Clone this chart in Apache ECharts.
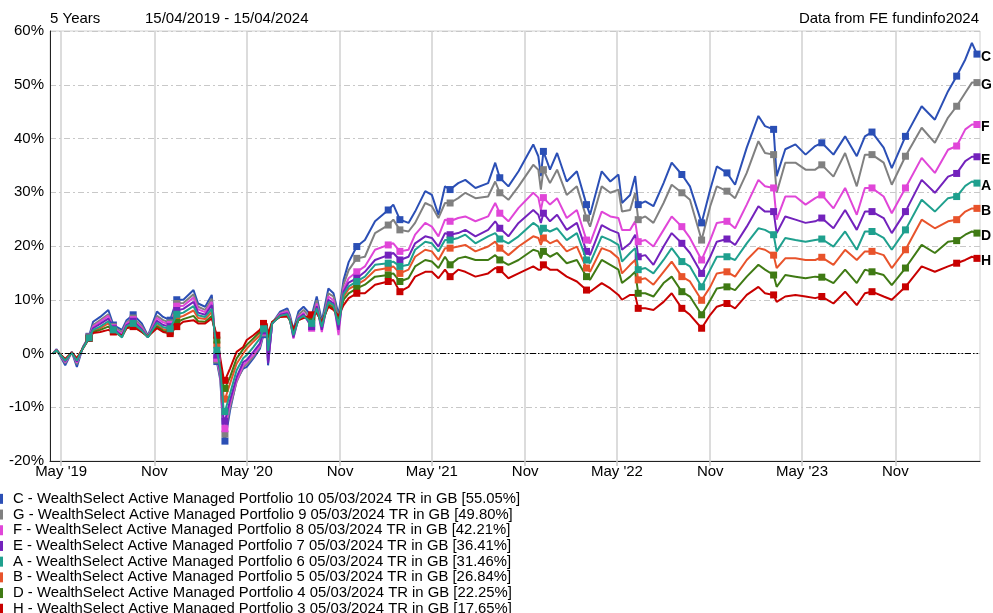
<!DOCTYPE html>
<html><head><meta charset="utf-8">
<script src="https://cdn.jsdelivr.net/npm/echarts@6/dist/echarts.min.js"></script>
<style>html,body{margin:0;padding:0;background:#fff}#chart{width:993px;height:613px}</style>
</head><body><div id="chart"></div>
<script>
const dates = [
'2019-04-15','2019-04-22','2019-05-09','2019-05-22','2019-06-01','2019-06-13','2019-06-25','2019-07-03','2019-07-17','2019-08-02',
'2019-08-12','2019-08-29','2019-09-07','2019-09-20','2019-10-07','2019-10-19','2019-11-06','2019-11-18','2019-12-02','2019-12-15',
'2019-12-28','2020-01-17','2020-01-26','2020-02-09','2020-02-22','2020-03-03','2020-03-10','2020-03-16','2020-03-19','2020-03-29',
'2020-04-11','2020-04-24','2020-05-01','2020-05-14','2020-05-27','2020-06-03','2020-06-09','2020-06-12','2020-06-20','2020-07-06',
'2020-07-20','2020-07-25','2020-08-01','2020-08-11','2020-08-21','2020-09-06','2020-09-16','2020-09-26','2020-10-09','2020-10-19',
'2020-10-29','2020-11-08','2020-11-18','2020-12-04','2020-12-20','2021-01-09','2021-02-04','2021-02-14','2021-02-27','2021-03-16',
'2021-03-29','2021-04-18','2021-05-01','2021-05-14','2021-05-27','2021-06-06','2021-06-22','2021-07-06','2021-07-26','2021-08-20',
'2021-09-03','2021-09-12','2021-09-29','2021-10-19','2021-11-17','2021-11-27','2021-12-02','2021-12-07','2021-12-20','2022-01-03',
'2022-01-22','2022-02-11','2022-03-02','2022-03-09','2022-04-01','2022-04-18','2022-05-04','2022-05-11','2022-05-27','2022-06-06',
'2022-06-12','2022-06-26','2022-07-12','2022-08-01','2022-08-17','2022-09-06','2022-09-22','2022-10-15','2022-11-01','2022-11-14',
'2022-12-04','2022-12-20','2023-01-12','2023-02-04','2023-02-17','2023-03-06','2023-03-12','2023-03-29','2023-04-18','2023-05-08',
'2023-05-27','2023-06-09','2023-07-02','2023-07-25','2023-08-17','2023-09-02','2023-09-16','2023-10-09','2023-10-25','2023-11-21',
'2023-12-23','2024-01-18','2024-02-13','2024-03-01','2024-03-18','2024-03-31','2024-04-10'
];
const seriesC = [
0,0.8,-2.2,0.3,-2.5,1.2,3.2,5.9,6.8,8.1,
5.3,4.4,6.2,7.2,5.6,3.3,7.8,6.8,6.2,10.0,
10.0,11.8,9.3,8.7,10.9,-1.5,-5.0,-15.5,-16.3,-10.6,
-5.0,-2.8,-2.5,-0.9,0.9,3.5,4.4,-2.2,5.6,7.8,
8.4,7.2,4.4,7.8,8.7,7.0,10.6,6.0,12.1,11.2,
7.2,13.7,17.0,19.9,21.1,24.6,26.7,27.7,24.9,24.3,
26.4,30.2,29.5,25.8,31.1,30.5,31.7,32.3,30.8,31.7,
35.5,32.7,31.1,33.9,38.9,36.7,33.0,37.6,34.2,37.3,
32.0,33.9,27.7,25.8,33.9,32.0,33.3,28.0,29.5,33.0,
27.7,28.3,27.4,31.7,35.5,33.3,31.1,24.3,30.5,34.8,
33.6,31.4,38.3,44.2,42.3,41.7,33.0,38.0,38.9,37.0,
38.6,39.2,37.0,40.4,36.7,40.4,41.2,38.3,34.5,40.4,
46.0,43.5,48.8,51.6,54.7,57.8,55.7
];
const seriesG = [
0,0.7,-1.8,0.3,-2.0,1.2,3.1,5.3,6.2,7.3,
5.0,4.0,5.8,6.6,5.1,3.2,7.0,6.2,5.7,9.3,
9.4,11.0,8.7,8.1,10.2,-1.2,-4.5,-14.3,-15.0,-10.0,
-5.3,-2.5,-2.0,-0.6,1.2,3.8,4.6,-1.2,5.6,7.5,
8.0,6.8,3.8,7.2,8.1,6.3,9.9,5.3,11.2,10.6,
6.5,12.8,15.5,17.7,18.0,22.4,23.9,24.9,23.0,22.7,
24.3,28.0,27.4,25.2,28.0,28.0,28.9,29.9,28.9,29.2,
32.0,29.9,28.6,31.1,35.1,34.2,30.5,34.2,31.7,34.2,
29.5,31.1,25.2,23.6,31.1,29.9,30.5,26.4,26.7,29.9,
24.9,25.5,24.3,28.0,31.4,29.9,28.6,21.1,27.4,31.1,
30.2,28.9,33.6,39.5,37.3,37.0,29.9,35.5,35.5,34.2,
34.2,35.1,32.9,37.3,31.1,37.0,37.0,35.5,31.4,36.7,
42.0,39.2,43.9,46.0,48.5,50.4,50.4
];
const seriesF = [
0,0.7,-1.6,0.2,-1.7,1.1,3.0,5.0,5.9,7.0,
4.8,3.6,5.6,6.3,4.8,3.0,6.6,5.8,5.4,8.8,
8.9,10.4,8.2,7.7,9.6,-0.9,-4.0,-13.4,-14.0,-9.3,
-5.0,-2.2,-1.5,-0.3,1.5,4.0,4.8,-1.5,5.5,7.4,
7.8,6.5,2.8,6.8,7.6,4.7,9.3,4.0,10.6,9.9,
3.4,12.0,14.0,15.2,16.2,19.3,20.2,20.5,19.0,19.3,
22.1,24.3,23.6,21.8,24.9,24.6,25.2,25.5,24.6,25.5,
28.0,26.1,24.6,27.1,29.9,29.0,26.7,29.0,27.7,28.9,
25.2,26.7,21.1,20.5,26.4,25.5,25.2,23.0,23.0,24.6,
20.8,21.1,19.9,23.0,25.5,23.6,21.5,17.4,21.1,24.3,
24.6,23.3,27.7,32.3,31.1,30.8,24.9,29.2,29.2,27.7,
28.9,29.5,27.0,30.8,25.8,30.8,30.8,29.2,26.1,30.8,
36.4,33.6,37.9,38.6,41.7,42.6,42.6
];
const seriesE = [
0,0.7,-1.4,0.2,-1.5,1.1,3.0,4.7,5.5,6.5,
4.6,3.3,5.3,6.0,4.5,3.0,6.1,5.3,5.0,8.0,
8.3,9.6,7.6,7.2,9.0,-0.3,-3.5,-11.8,-12.6,-8.7,
-4.4,-1.6,-1.2,0.3,1.9,4.2,5.0,-1.8,5.5,7.2,
7.5,6.3,3.0,6.5,7.3,5.0,8.8,4.4,10.0,9.3,
4.4,11.5,13.2,14.0,15.2,17.4,18.3,18.7,17.4,18.0,
20.5,21.8,21.5,19.9,22.4,22.1,22.4,23.0,21.8,23.0,
24.6,23.3,21.8,24.3,26.7,25.8,24.3,26.1,24.6,25.8,
23.0,24.3,19.0,18.3,23.9,23.0,22.4,19.3,20.5,22.1,
18.0,18.3,16.5,19.9,22.4,20.5,18.7,14.9,18.0,20.8,
21.3,20.2,23.6,27.4,26.4,26.4,22.4,25.5,24.9,24.3,
24.6,25.2,23.3,26.7,23.0,26.4,26.4,25.2,22.4,26.4,
32.3,29.9,32.9,33.5,35.8,36.6,36.6
];
const seriesA = [
0,0.6,-1.3,0.1,-1.3,1.0,2.9,4.4,5.0,6.0,
4.4,3.0,5.1,5.6,4.3,3.0,5.7,4.9,4.6,7.3,
7.6,8.8,7.1,6.8,8.3,0.6,-3.0,-10.0,-10.8,-7.5,
-3.1,-0.9,-0.3,1.2,2.8,4.6,5.1,0.5,5.6,7.0,
7.3,6.2,3.4,6.4,7.0,5.6,8.4,5.0,9.6,9.0,
5.3,11.0,12.5,13.4,14.3,16.5,16.8,17.1,16.2,16.5,
19.3,20.8,20.5,19.0,21.1,21.1,21.5,22.1,20.5,21.8,
22.4,21.3,20.5,21.8,24.3,23.6,22.1,23.3,22.7,23.3,
21.1,22.4,17.4,16.8,21.8,21.1,20.2,17.1,18.7,19.6,
15.6,15.9,14.9,17.4,19.6,17.1,16.2,12.4,15.6,18.0,
18.0,17.4,20.5,23.3,23.0,22.1,19.0,21.5,21.1,20.8,
21.1,21.3,19.9,22.7,19.3,22.7,22.7,21.5,19.3,23.0,
28.6,26.4,28.9,29.2,31.2,32.0,31.7
];
const seriesB = [
0,0.6,-1.2,0.1,-1.1,1.0,2.9,4.2,4.7,5.6,
4.2,3.1,4.9,5.3,4.1,3.1,5.3,4.5,4.3,6.6,
7.0,8.0,6.6,6.4,7.7,1.6,-2.4,-7.8,-8.5,-5.6,
-1.9,0.0,0.9,2.2,3.4,5.0,5.3,1.8,5.7,7.0,
7.2,6.2,3.8,6.3,6.9,6.2,8.1,5.3,9.3,8.7,
6.0,10.5,12.0,12.8,13.7,15.5,15.9,16.2,14.9,15.6,
18.0,19.3,19.0,17.4,19.6,19.6,19.9,20.2,19.0,19.9,
20.8,19.6,18.3,19.9,21.8,21.5,20.2,21.5,20.5,21.1,
19.0,19.9,15.9,15.2,19.6,19.0,17.7,14.9,16.5,17.4,
13.7,14.0,12.8,15.2,17.1,14.3,13.4,9.9,12.4,14.9,
15.2,14.3,17.4,19.6,19.3,18.3,15.9,17.7,17.7,17.4,
17.4,17.9,16.5,19.3,17.4,19.0,19.0,18.3,15.9,19.3,
24.9,23.3,24.6,24.9,26.4,27.0,27.0
];
const seriesD = [
0,0.5,-1.1,0.1,-1.0,1.0,2.8,4.0,4.4,5.0,
4.1,3.2,4.8,5.1,4.0,3.1,5.0,4.2,4.0,5.8,
6.4,7.0,6.0,5.9,7.0,2.5,-1.7,-5.9,-6.5,-4.4,
-0.9,0.8,1.6,2.8,4.0,5.3,5.5,3.0,5.8,6.9,
7.0,6.2,4.2,6.2,6.7,6.7,7.8,5.6,9.0,8.4,
6.5,10.0,11.2,12.1,12.8,14.3,14.6,14.9,13.4,14.0,
16.2,17.4,17.1,15.9,18.0,16.5,17.7,18.0,17.4,17.4,
18.3,17.4,16.5,17.4,19.3,19.0,17.7,19.0,18.0,18.7,
16.8,17.4,14.3,13.7,17.4,16.5,15.6,13.1,14.3,15.2,
11.2,11.2,10.6,13.1,14.3,11.5,10.6,7.2,9.9,12.1,
12.4,11.8,14.3,16.5,15.6,14.6,12.4,14.6,14.3,14.0,
14.3,14.2,13.1,15.6,13.1,15.6,15.2,14.6,12.7,15.9,
20.2,18.7,20.8,21.0,22.1,22.7,22.4
];
const seriesH = [
0,0.5,-1.0,0.2,-0.9,1.0,2.8,3.8,4.0,4.4,
4.0,3.3,4.7,5.0,4.0,3.2,4.7,4.0,3.7,5.0,
5.9,6.2,5.6,5.6,6.5,3.4,-1.0,-4.4,-5.0,-2.8,
0.3,1.2,2.5,3.4,4.4,5.6,5.6,3.6,5.9,6.8,
6.9,6.2,4.6,6.2,6.6,7.2,7.5,5.9,8.7,8.1,
7.0,9.0,10.3,11.2,11.2,12.8,13.4,13.7,11.5,12.4,
14.3,15.2,15.2,14.0,15.6,14.3,15.6,15.2,14.3,14.9,
15.9,15.6,14.0,14.9,16.2,15.6,15.6,16.5,15.6,15.6,
14.3,13.4,11.8,11.5,13.1,12.1,10.9,10.0,10.9,10.9,
8.4,8.4,8.1,9.6,11.2,8.4,7.2,4.7,7.2,8.7,
9.3,8.4,10.9,12.4,11.2,10.9,9.6,10.6,10.9,10.6,
10.3,10.6,9.3,11.5,9.0,11.2,11.5,10.6,10.0,12.4,
16.2,15.2,16.2,16.8,17.4,18.0,17.7
];
const seriesNames = [
'C - WealthSelect Active Managed Portfolio 10 05/03/2024 TR in GB [55.05%]',
'G - WealthSelect Active Managed Portfolio 9 05/03/2024 TR in GB [49.80%]',
'F - WealthSelect Active Managed Portfolio 8 05/03/2024 TR in GB [42.21%]',
'E - WealthSelect Active Managed Portfolio 7 05/03/2024 TR in GB [36.41%]',
'A - WealthSelect Active Managed Portfolio 6 05/03/2024 TR in GB [31.46%]',
'B - WealthSelect Active Managed Portfolio 5 05/03/2024 TR in GB [26.84%]',
'D - WealthSelect Active Managed Portfolio 4 05/03/2024 TR in GB [22.25%]',
'H - WealthSelect Active Managed Portfolio 3 05/03/2024 TR in GB [17.65%]'
];
const seriesLetters = ['C','G','F','E','A','B','D','H'];
const seriesColors = ['#2B4FB5','#808080','#E046D8','#7322BC','#1FA08E','#E8532B','#3F7A14','#C80000'];
const tickDates = ['2019-05-01','2019-11-01','2020-05-01','2020-11-01','2021-05-01','2021-11-01','2022-05-01','2022-11-01','2023-05-01','2023-11-01'];
const tickLabels = ["May '19","Nov","May '20","Nov","May '21","Nov","May '22","Nov","May '23","Nov"];
const markerDates = ['2019-06-25','2019-08-12','2019-09-20','2019-12-02','2019-12-15','2020-03-03','2020-03-19','2020-06-03','2020-09-06','2020-12-04',
'2021-02-04','2021-02-27','2021-06-06','2021-09-12','2021-12-07','2022-03-02','2022-06-12','2022-09-06','2022-10-15','2022-12-04',
'2023-03-06','2023-06-09','2023-09-16','2023-11-21','2024-03-01','2024-04-10'];
const axisStart = '2019-04-09';
const axisEnd = '2024-04-16';
const headerLeft = '5 Years';
const headerRange = '15/04/2019 - 15/04/2024';
const headerRight = 'Data from FE fundinfo2024';

const FONT = '"Liberation Sans", Arial, sans-serif';
const parse = s => { const p = s.split('-').map(Number); return Date.UTC(p[0], p[1] - 1, p[2]); };
const tickVals = tickDates.map(parse);
const markerIdx = new Set(markerDates.map(d => dates.indexOf(d)));
const valuesList = [seriesC, seriesG, seriesF, seriesE, seriesA, seriesB, seriesD, seriesH];

const chart = echarts.init(document.getElementById('chart'), null, {renderer: 'canvas'});
const series = valuesList.map((vals, i) => ({
  name: seriesNames[i],
  type: 'line',
  data: dates.map((d, j) => [parse(d), vals[j]]),
  symbol: 'rect',
  symbolSize: (v, p) => markerIdx.has(p.dataIndex) ? 7 : 0,
  showSymbol: true,
  showAllSymbol: true,
  lineStyle: {width: 2, color: seriesColors[i]},
  itemStyle: {color: seriesColors[i]},
  z: seriesLetters[i] === 'A' ? 4 : 3,
  silent: true,
  emphasis: {disabled: true},
  endLabel: {show: true, formatter: seriesLetters[i], color: '#000', fontWeight: 'bold', fontSize: 14, fontFamily: FONT, distance: 4, offset: [0, 3]}
}));
series[0].markLine = {
  silent: true, symbol: 'none', label: {show: false}, animation: false,
  lineStyle: {color: '#000', width: 1, type: [6, 2, 1.5, 2, 1.5, 2]},
  data: [{yAxis: 0}]
};

chart.setOption({
  animation: false,
  backgroundColor: '#fff',
  grid: {left: 50, right: 13, top: 31, bottom: 152, show: true, borderColor: '#d0d0d0', borderWidth: 1},
  graphic: [
    {type: 'text', left: 50, top: 11, style: {text: headerLeft, font: '15px ' + FONT, fill: '#000'}},
    {type: 'text', left: 145, top: 11, style: {text: headerRange, font: '15px ' + FONT, fill: '#000'}},
    {type: 'text', right: 14, top: 11, style: {text: headerRight, font: '15px ' + FONT, fill: '#000'}}
  ],
  legend: {
    orient: 'vertical', left: -5, top: 491, height: 140, padding: 0,
    itemWidth: 8, itemHeight: 10, itemGap: 0, icon: 'rect',
    selectedMode: false, data: seriesNames,
    textStyle: {fontSize: 14.85, fontFamily: FONT, color: '#000', lineHeight: 15.7, padding: [0, 0, 0, 5]}
  },
  xAxis: {
    type: 'value', min: parse(axisStart), max: parse(axisEnd), scale: true,
    axisLine: {show: true, onZero: false, lineStyle: {color: '#222', width: 1}},
    axisTick: {show: true, customValues: tickVals, length: 5, lineStyle: {color: '#c8c8c8', width: 1.5}},
    axisLabel: {
      customValues: tickVals, color: '#000', fontSize: 15, fontFamily: FONT, margin: 3, hideOverlap: false,
      formatter: v => { let k = 0, best = Infinity; tickVals.forEach((t, i) => { const dd = Math.abs(t - v); if (dd < best) { best = dd; k = i; } }); return tickLabels[k]; }
    },
    splitLine: {show: true, lineStyle: {color: '#d0d0d0', width: 1.5}}
  },
  yAxis: {
    type: 'value', min: -20, max: 60, interval: 10,
    axisLine: {show: true, onZero: false, lineStyle: {color: '#222', width: 1}},
    axisTick: {show: false},
    axisLabel: {formatter: '{value}%', color: '#000', fontSize: 15, fontFamily: FONT, margin: 6},
    splitLine: {show: true, lineStyle: {color: '#c8c8c8', width: 1, type: [6, 3, 2, 3]}}
  },
  series: series
});
</script></body></html>
